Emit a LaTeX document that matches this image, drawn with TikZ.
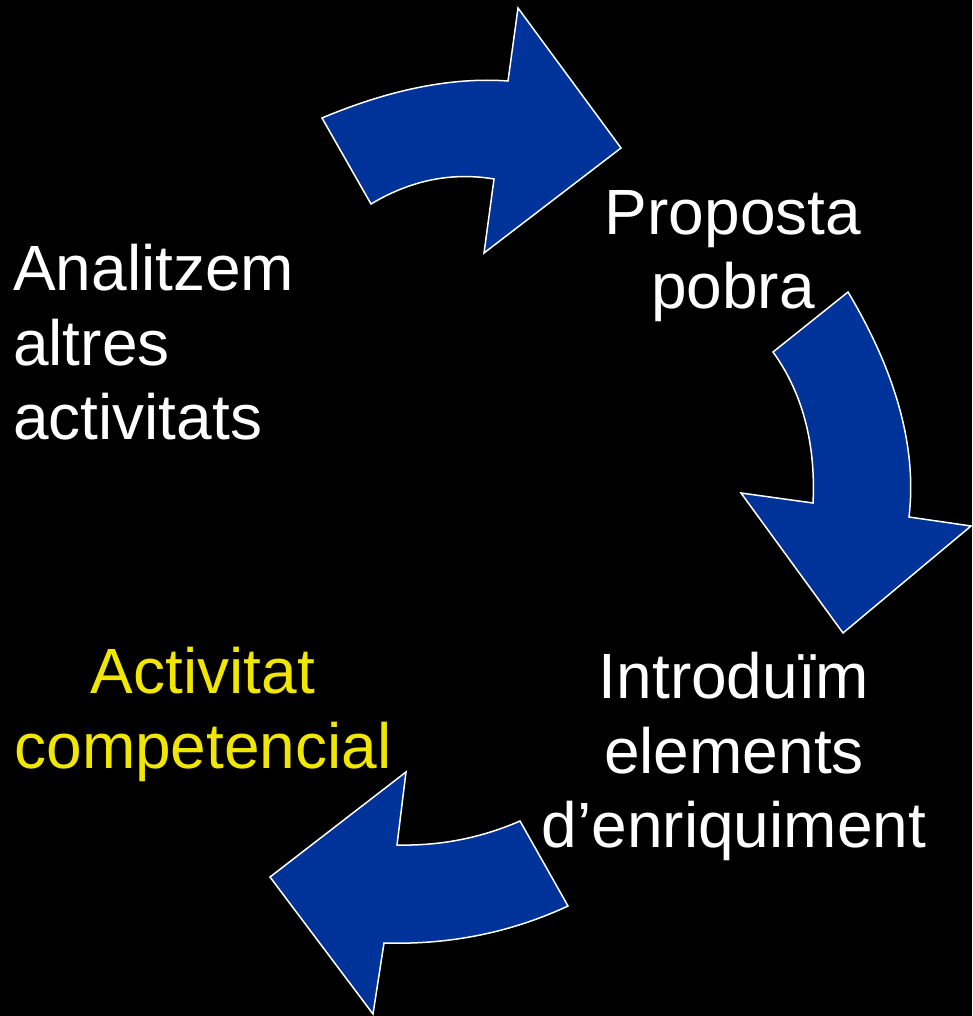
\documentclass[tikz,border=0pt]{standalone}
\usepackage{fontspec}
\setmainfont{Liberation Sans}
\usetikzlibrary{positioning}
\definecolor{blauFletxa}{RGB}{0,51,153}
\definecolor{grocText}{RGB}{240,230,0}

\begin{document}
\begin{tikzpicture}[x=1pt, y=-1pt,
      fletxa/.style={fill=blauFletxa, draw=white, line width=1.5pt, line join=miter},
      pas/.style={text=white, align=center, inner sep=0pt, anchor=north, font=\fontsize{64pt}{74.5pt}\selectfont},
      pasgroc/.style={pas, text=grocText}
    ]

    % ─── Fons negre ──────────────────────────────────────────────
    \fill[black] (0,0) rectangle (972,1016);
    \useasboundingbox (0,0) rectangle (972,1016);

    % ─── Fletxa de dalt (cap a la dreta) ─────────────────────────
    \draw[fletxa] (322,118) .. controls (391,89) and (453,77) .. (508,81)
      -- (518,8) -- (621,148) -- (484,253) -- (494,179)
      .. controls (452,172) and (411,180) .. (371,204) -- cycle;

    % ─── Fletxa de la dreta (cap avall) ──────────────────────────
    \draw[fletxa] (773,352) -- (848,292)
      .. controls (897,374) and (917,449) .. (909,517)
      -- (971,526) -- (843,633) -- (741,493) -- (813,503)
      .. controls (816,443) and (802,392) .. (773,352) -- cycle;

    % ─── Fletxa de baix (cap a l'esquerra) ───────────────────────
    \draw[fletxa] (520,821) .. controls (481,838) and (440,846) .. (397,845)
      -- (406,772) -- (270,877) -- (373,1014) -- (384,943)
      .. controls (451,945) and (512,932) .. (568,906) -- cycle;

    % ─── Textos ──────────────────────────────────────────────────
    \node[pas, anchor=north west, align=left] (analitzem) at (13,244) {Analitzem\\ altres\\ activitats};
    \node[pas] (proposta)   at (733,190) {Proposta\\ pobra};
    \node[pas] (introduim)  at (734,652) {Introduïm\\ elements\\ d’enriquiment};
    \node[pasgroc] (activitat) at (203,647) {Activitat\\ competencial};

    \end{tikzpicture}
\end{document}
